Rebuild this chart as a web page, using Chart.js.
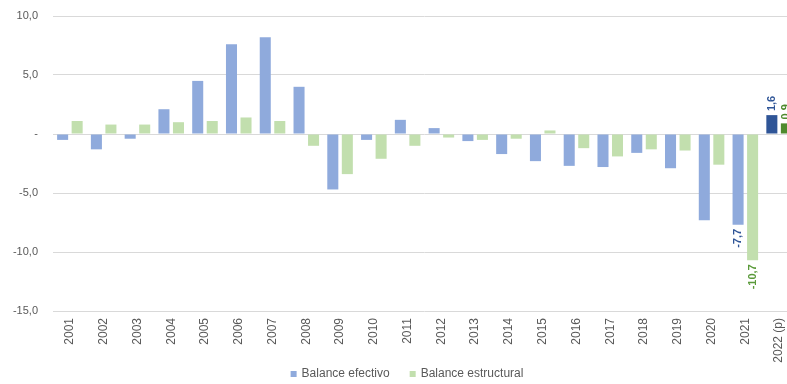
<!DOCTYPE html>
<html lang="es">
<head>
<meta charset="utf-8">
<title>Balance efectivo y estructural</title>
<script src="https://cdn.jsdelivr.net/npm/chart.js@4/dist/chart.umd.min.js"></script>
<style>
  html, body { margin: 0; padding: 0; background: #ffffff; overflow: hidden; }
  #wrap { width: 787px; height: 384px; overflow: hidden; position: relative; }
  canvas { display: block; }
</style>
</head>
<body>
<div id="wrap"><canvas id="chart" width="814" height="384"></canvas></div>
<script>
// Años (2022 provisional)
const years = ['2001', '2002', '2003', '2004', '2005', '2006', '2007', '2008', '2009', '2010',
  '2011', '2012', '2013', '2014', '2015', '2016', '2017', '2018', '2019', '2020', '2021', '2022 (p)'];

// Balance efectivo, % del PIB
const balanceEfectivo = [-0.5, -1.3, -0.4, 2.1, 4.5, 7.6, 8.2, 4.0, -4.7, -0.5,
  1.2, 0.5, -0.6, -1.7, -2.3, -2.7, -2.8, -1.6, -2.9, -7.3, -7.7, 1.6];

// Balance estructural, % del PIB
const balanceEstructural = [1.1, 0.8, 0.8, 1.0, 1.1, 1.4, 1.1, -1.0, -3.4, -2.1,
  -1.0, -0.3, -0.5, -0.4, 0.3, -1.2, -1.9, -1.3, -1.4, -2.6, -10.7, 0.9];

// Escala del eje vertical
const yTicks = [-15, -10, -5, 0, 5, 10];

// Años con la cifra escrita sobre la barra
const labelledYears = ['2021', '2022 (p)'];

const fmt = v => v.toFixed(1).replace('.', ',');
const lastIdx = years.length - 1;
const fontFamily = '"Liberation Sans", Arial, sans-serif';

// El año provisional va en tono más oscuro
const shade = (light, dark) => years.map((_, i) => (i === lastIdx ? dark : light));

const blueLight = '#8faadc', blueDark = '#2f5597';
const greenLight = '#c2dfae', greenDark = '#4f8a2e';

// Cifras giradas junto al extremo de las barras señaladas
const valueLabels = {
  id: 'valueLabels',
  afterDatasetsDraw(chart) {
    const ctx = chart.ctx;
    chart.data.datasets.forEach((ds, di) => {
      const meta = chart.getDatasetMeta(di);
      labelledYears.forEach(year => {
        const i = chart.data.labels.indexOf(year);
        const v = ds.data[i];
        const el = meta.data[i];
        if (!el) return;
        const color = i === lastIdx ? ds.labelDark : ds.labelColor;
        ctx.save();
        ctx.translate(el.x, v < 0 ? el.y + 4 : el.y - 4);
        ctx.rotate(-Math.PI / 2);
        ctx.font = 'bold 11px ' + fontFamily;
        ctx.fillStyle = color;
        ctx.textBaseline = 'middle';
        ctx.textAlign = v < 0 ? 'right' : 'left';
        ctx.fillText(fmt(v), 0, 0);
        ctx.restore();
      });
    });
  }
};

// Leyenda centrada al pie, bajo las etiquetas de los años
const seriesKey = {
  id: 'seriesKey',
  afterDraw(chart) {
    const ctx = chart.ctx;
    const box = 6, gap = 5, spacing = 20, y = 374;
    ctx.save();
    ctx.font = '12px ' + fontFamily;
    ctx.textBaseline = 'middle';
    ctx.textAlign = 'left';
    const items = chart.data.datasets.map(ds => ({
      text: ds.label,
      color: ds.backgroundColor[0],
      w: box + gap + ctx.measureText(ds.label).width
    }));
    const total = items.reduce((s, it) => s + it.w, 0) + spacing * (items.length - 1);
    let x = chart.width / 2 - total / 2;
    items.forEach(it => {
      ctx.fillStyle = it.color;
      ctx.fillRect(x, y - box / 2, box, box);
      ctx.fillStyle = '#595959';
      ctx.fillText(it.text, x + box + gap, y);
      x += it.w + spacing;
    });
    ctx.restore();
  }
};

new Chart(document.getElementById('chart'), {
  type: 'bar',
  data: {
    labels: years,
    datasets: [
      {
        label: 'Balance efectivo',
        data: balanceEfectivo,
        backgroundColor: shade(blueLight, blueDark),
        labelColor: blueDark,
        labelDark: blueDark,
        categoryPercentage: 0.86,
        barPercentage: 0.76
      },
      {
        label: 'Balance estructural',
        data: balanceEstructural,
        backgroundColor: shade(greenLight, greenDark),
        labelColor: '#5a9a3a',
        labelDark: '#4f8a2e',
        categoryPercentage: 0.86,
        barPercentage: 0.76
      }
    ]
  },
  options: {
    responsive: false,
    animation: false,
    devicePixelRatio: 1,
    layout: { padding: { top: 16, right: 18, bottom: 0, left: 0 } },
    plugins: {
      tooltip: { enabled: false },
      legend: { display: false }
    },
    scales: {
      x: {
        grid: { display: false, drawTicks: false },
        border: { display: false },
        ticks: {
          minRotation: 90,
          maxRotation: 90,
          autoSkip: false,
          padding: 7,
          color: '#595959',
          font: { family: fontFamily, size: 12 }
        },
        afterFit: s => { s.height = 384 - 311; }
      },
      y: {
        min: -15,
        max: 10,
        afterBuildTicks: s => { s.ticks = yTicks.map(v => ({ value: v })); },
        grid: { color: '#d9d9d9', lineWidth: 1, drawTicks: false },
        border: { display: false },
        ticks: {
          padding: 15,
          color: '#595959',
          font: { family: fontFamily, size: 11 },
          callback: v => (v === 0 ? '-' : fmt(v))
        },
        afterFit: s => {
          s.width = 53;
          s.paddingTop = 0;
          s.paddingBottom = 0;
        }
      }
    }
  },
  plugins: [valueLabels, seriesKey]
});
</script>
</body>
</html>
